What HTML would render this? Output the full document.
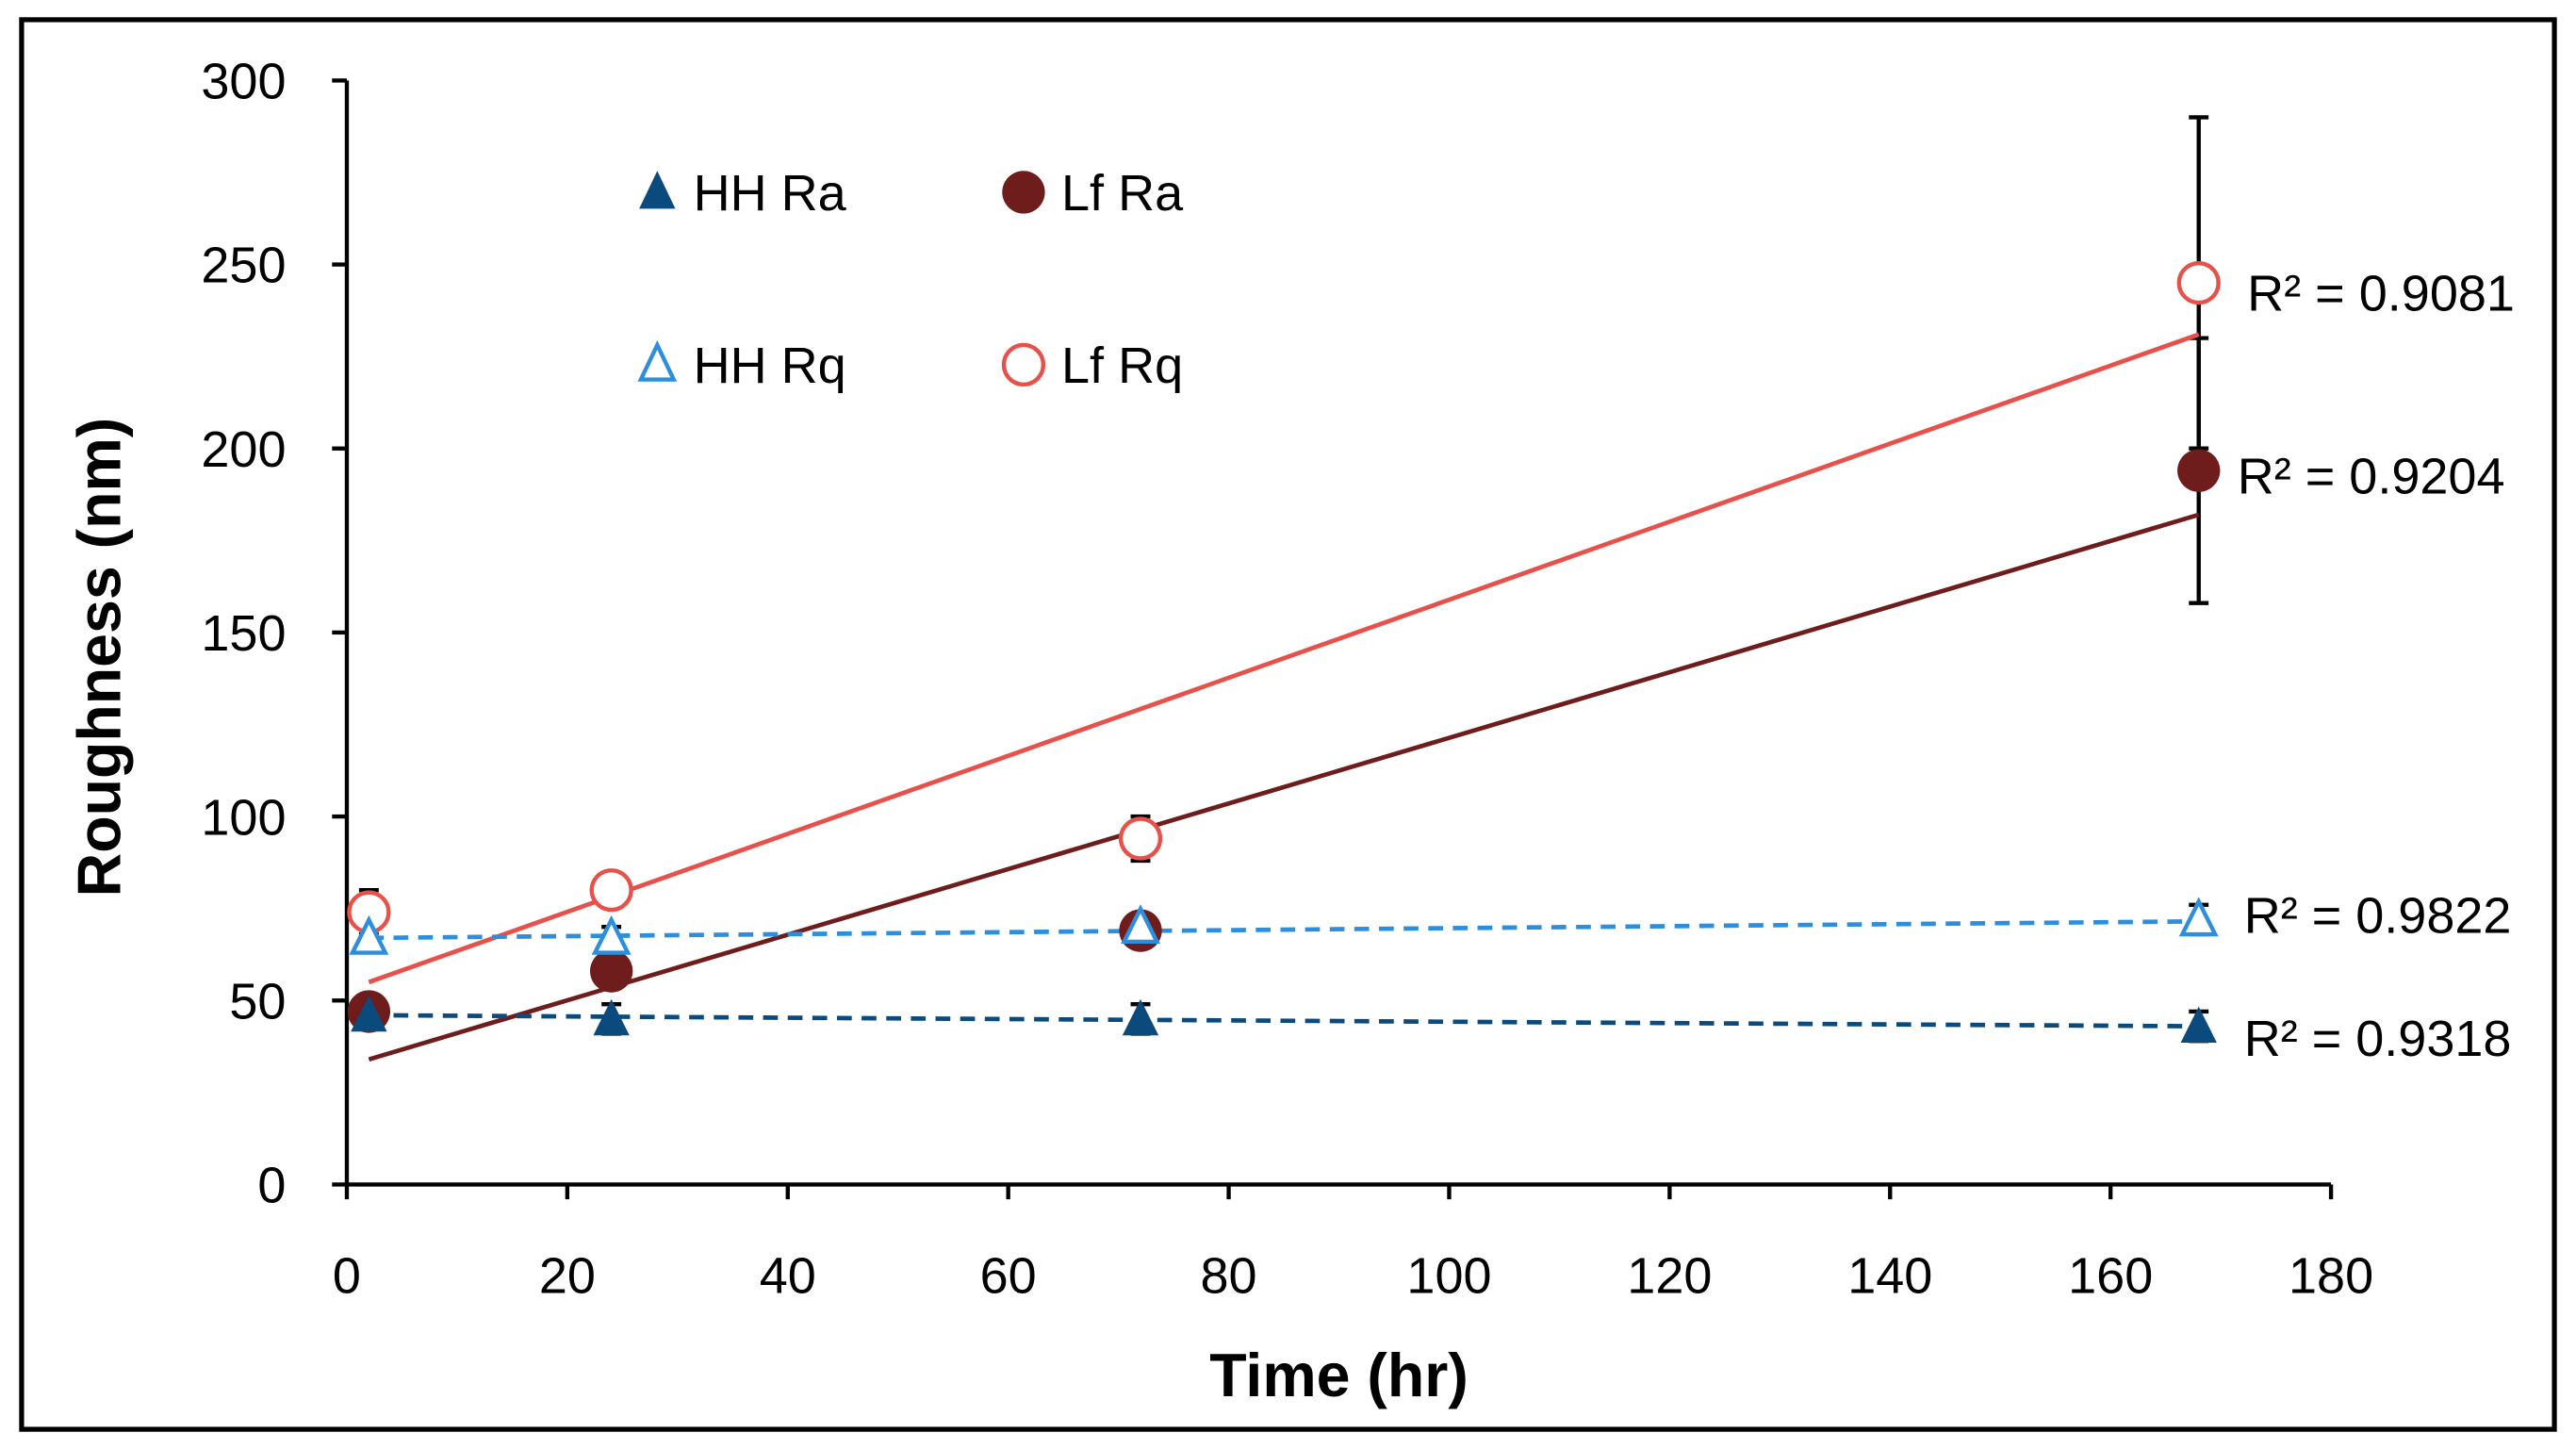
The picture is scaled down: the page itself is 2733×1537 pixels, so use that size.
<!DOCTYPE html>
<html><head><meta charset="utf-8"><style>
html,body{margin:0;padding:0;background:#fff;width:2733px;height:1537px;overflow:hidden}
svg{display:block}
text{font-family:"Liberation Sans",sans-serif;fill:#000}
</style></head><body>
<svg id="chart" width="2733" height="1537" viewBox="0 0 1568 882" xmlns="http://www.w3.org/2000/svg">
<rect x="13" y="12" width="1542" height="858" fill="#fff" stroke="#000" stroke-width="3"/>
<g id="axes"></g><g id="marks"></g>
<g>
<polygon points="400,104 389,127 411,127" fill="#0b4a7c"/>
<text x="422" y="128" font-size="31">HH Ra</text>
<circle cx="623" cy="117" r="13" fill="#6e1c1c"/>
<text x="646" y="128" font-size="31">Lf Ra</text>
<polygon points="400,210 390,231 410,231" fill="#fff" stroke="#2e8ede" stroke-width="2.5"/>
<text x="422" y="233" font-size="31">HH Rq</text>
<circle cx="623" cy="222" r="12" fill="#fff" stroke="#e8504a" stroke-width="2.5"/>
<text x="646" y="233" font-size="31">Lf Rq</text>
</g>
<text x="815" y="850" font-size="37" font-weight="bold" text-anchor="middle">Time (hr)</text>
<text transform="translate(73,400) rotate(-90)" font-size="37" font-weight="bold" text-anchor="middle">Roughness (nm)</text>
</svg>
<script>
const times=[2,24,72,168];
const hhRa=[46,45,45,43];
const hhRaErr=[3,4,4,4];
const hhRq=[67,67,70,72];
const hhRqErr=[3,3,3,4];
const lfRa=[47,58,69,194];
const lfRaErr=[3,3,3,36];
const lfRq=[74,80,94,245];
const lfRqErr=[6,3,6,45];
const fitLfRq=[55,231];
const fitLfRa=[34,182];
const fitHhRq=[67,71.5];
const fitHhRa=[46,43];
const r2Labels=["R² = 0.9081","R² = 0.9204","R² = 0.9822","R² = 0.9318"];
const xTicks=[0,20,40,60,80,100,120,140,160,180];
const yTicks=[0,50,100,150,200,250,300];
const NS="http://www.w3.org/2000/svg";
const X=v=>211+v*(1208/180), Y=v=>721-v*(672/300);
function mk(tag,attrs,parent){const e=document.createElementNS(NS,tag);for(const k in attrs)e.setAttribute(k,attrs[k]);parent.appendChild(e);return e;}
const ax=document.getElementById('axes'), mg=document.getElementById('marks');
let e=mk('line',{x1:X(0),y1:Y(0),x2:X(180),y2:Y(0),stroke:'#000','stroke-width':2.5},ax);


e=mk('line',{x1:X(0),y1:Y(0),x2:X(0),y2:Y(300),stroke:'#000','stroke-width':2.5},ax);


xTicks.forEach(t=>{
 let l=mk('line',{x1:X(t),y1:Y(0),x2:X(t),y2:Y(0)+9,stroke:'#000','stroke-width':2.5},ax);
 
 
 let tx=mk('text',{x:X(t),y:787,'font-size':31,'text-anchor':'middle'},ax);tx.textContent=t;
 
 
});
yTicks.forEach(t=>{
 let l=mk('line',{x1:X(0)-9,y1:Y(t),x2:X(0),y2:Y(t),stroke:'#000','stroke-width':2.5},ax);
 
 
 let tx=mk('text',{x:174,y:Y(t)+11,'font-size':31,'text-anchor':'end'},ax);tx.textContent=t;
 
 
});
function errs(vals,er){
 times.forEach((t,i)=>{
  const x=X(t),y1=Y(vals[i]+er[i]),y2=Y(vals[i]-er[i]);
  let g=mk('path',{d:`M${x},${y1}V${y2}M${x-6},${y1}H${x+6}M${x-6},${y2}H${x+6}`,stroke:'#000','stroke-width':2.5,fill:'none'},mg);
  
  
 });
}
errs(lfRq,lfRqErr);errs(lfRa,lfRaErr);errs(hhRq,hhRqErr);errs(hhRa,hhRaErr);
function fit(vals,color,dash,name){
 let l=mk('line',{x1:X(times[0]),y1:Y(vals[0]),x2:X(times[3]),y2:Y(vals[1]),stroke:color,'stroke-width':2.7},mg);
 if(dash)l.setAttribute('stroke-dasharray','9,6');
 
 
}
fit(fitLfRq,'#e8504a',false,'trendline-lf-rq');
fit(fitLfRa,'#6e1c1c',false,'trendline-lf-ra');
fit(fitHhRq,'#2e8ede',true,'trendline-hh-rq');
fit(fitHhRa,'#0b4a7c',true,'trendline-hh-ra');
times.forEach((t,i)=>{
 let c=mk('circle',{cx:X(t),cy:Y(lfRa[i]),r:13,fill:'#6e1c1c'},mg);
 
 
});
times.forEach((t,i)=>{
 let c=mk('circle',{cx:X(t),cy:Y(lfRq[i]),r:12,fill:'#fff',stroke:'#e8504a','stroke-width':2.5},mg);
 
 
});
times.forEach((t,i)=>{
 const x=X(t),y=Y(hhRa[i]);
 let p=mk('polygon',{points:`${x},${y-12} ${x-11},${y+10} ${x+11},${y+10}`,fill:'#0b4a7c'},mg);
 
 
});
times.forEach((t,i)=>{
 const x=X(t),y=Y(hhRq[i]);
 let p=mk('polygon',{points:`${x},${y-11} ${x-10},${y+9} ${x+10},${y+9}`,fill:'#fff',stroke:'#2e8ede','stroke-width':2.5},mg);
 
 
});
const r2Pos=[[1368,Y(lfRq[3])+17],[1362,Y(lfRa[3])+14],[1366,Y(hhRq[3])+8],[1366,Y(hhRa[3])+18]];
r2Labels.forEach((s,i)=>{
 let tx=mk('text',{x:r2Pos[i][0],y:r2Pos[i][1],'font-size':31},mg);tx.textContent=s;
 
 
});
</script>
</body></html>
